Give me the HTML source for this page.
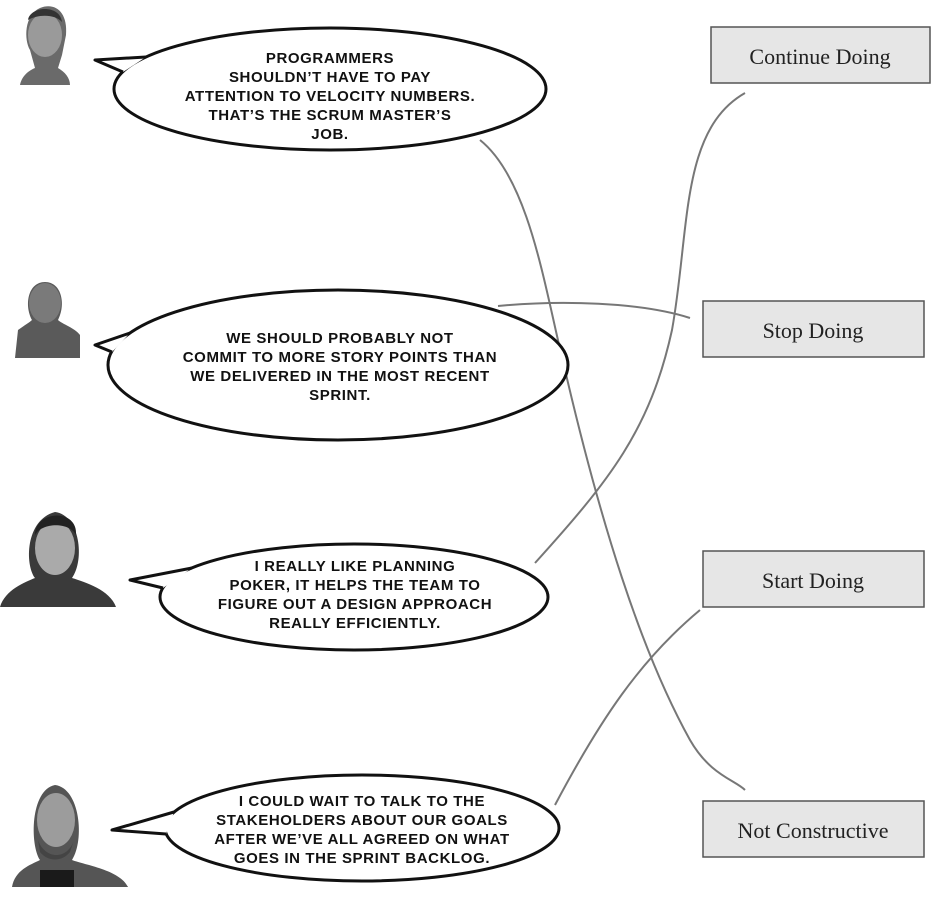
<!DOCTYPE html>
<html><head><style>
body{margin:0;background:#fff;width:935px;height:905px;overflow:hidden}
svg{display:block}
.t{font-family:"Liberation Sans",sans-serif;font-size:15px;font-weight:bold;text-anchor:middle;fill:#111;letter-spacing:0.6px}
.b{font-family:"Liberation Serif",serif;font-size:22px;text-anchor:middle;fill:#222}
</style></head><body>
<svg width="935" height="905" viewBox="0 0 935 905">
<g fill="none" stroke="#777" stroke-width="2">
<path d="M480,140 C530,180 545,290 565,370 C600,520 640,650 690,740 C710,775 735,780 745,790"/>
<path d="M498,306 C560,300 640,302 690,318"/>
<path d="M535,563 C610,480 650,430 672,330 C690,230 680,130 745,93"/>
<path d="M555,805 C600,720 640,660 700,610"/>
</g>
<g fill="#fff" stroke="#111" stroke-width="3" stroke-linejoin="round">
<ellipse cx="330" cy="89" rx="216" ry="61"/>
<path d="M123,72 L95,60 L146,57"/>
<ellipse cx="338" cy="365" rx="230" ry="75"/>
<path d="M112,352 L95,345 L130,333"/>
<ellipse cx="354" cy="597" rx="194" ry="53"/>
<path d="M163,588 L130,580 L192,568"/>
<ellipse cx="362" cy="828" rx="197" ry="53"/>
<path d="M166,834 L112,830 L174,812"/>
</g>
<g class="t">
<text x="330" y="63" class="t">PROGRAMMERS</text>
<text x="330" y="82" class="t">SHOULDN’T HAVE TO PAY</text>
<text x="330" y="101" class="t">ATTENTION TO VELOCITY NUMBERS.</text>
<text x="330" y="120" class="t">THAT’S THE SCRUM MASTER’S</text>
<text x="330" y="139" class="t">JOB.</text>
<text x="340" y="343" class="t">WE SHOULD PROBABLY NOT</text>
<text x="340" y="362" class="t">COMMIT TO MORE STORY POINTS THAN</text>
<text x="340" y="381" class="t">WE DELIVERED IN THE MOST RECENT</text>
<text x="340" y="400" class="t">SPRINT.</text>
<text x="355" y="571" class="t">I REALLY LIKE PLANNING</text>
<text x="355" y="590" class="t">POKER, IT HELPS THE TEAM TO</text>
<text x="355" y="609" class="t">FIGURE OUT A DESIGN APPROACH</text>
<text x="355" y="628" class="t">REALLY EFFICIENTLY.</text>
<text x="362" y="806" class="t">I COULD WAIT TO TALK TO THE</text>
<text x="362" y="825" class="t">STAKEHOLDERS ABOUT OUR GOALS</text>
<text x="362" y="844" class="t">AFTER WE’VE ALL AGREED ON WHAT</text>
<text x="362" y="863" class="t">GOES IN THE SPRINT BACKLOG.</text>
</g>
<g fill="#e6e6e6" stroke="#555" stroke-width="1.5">
<rect x="711" y="27" width="219" height="56"/>
<rect x="703" y="301" width="221" height="56"/>
<rect x="703" y="551" width="221" height="56"/>
<rect x="703" y="801" width="221" height="56"/>
</g>
<text x="820" y="64" class="b">Continue Doing</text>
<text x="813" y="338" class="b">Stop Doing</text>
<text x="813" y="588" class="b">Start Doing</text>
<text x="813" y="838" class="b">Not Constructive</text>
<g>
<path d="M20,85 C22,75 30,70 35,68 L30,50 C24,40 24,15 40,8 C55,2 68,12 66,35 L62,55 L58,68 C65,72 70,78 70,85 Z" fill="#6a6a6a"/>
<ellipse cx="45" cy="35" rx="17" ry="22" fill="#9a9a9a"/>
<path d="M28,20 C30,6 60,4 62,22 C55,14 38,14 28,20Z" fill="#333"/>
<path d="M15,358 L18,330 C25,325 30,322 32,320 C24,305 28,282 45,282 C62,282 66,305 58,320 C62,324 75,328 80,335 L80,358Z" fill="#5a5a5a"/>
<ellipse cx="45" cy="303" rx="16" ry="20" fill="#7a7a7a"/>
<path d="M0,607 C5,590 25,582 35,578 C25,565 25,520 55,512 C80,515 85,560 72,578 C85,582 110,590 116,607Z" fill="#3a3a3a"/>
<ellipse cx="55" cy="548" rx="20" ry="27" fill="#aaa"/>
<path d="M35,535 C35,510 78,508 76,535 C70,522 42,522 35,535Z" fill="#222"/>
<path d="M12,887 C15,870 30,865 40,860 C30,845 30,790 55,785 C80,788 85,840 72,860 C85,865 120,870 128,887Z" fill="#555"/>
<ellipse cx="56" cy="820" rx="19" ry="27" fill="#9c9c9c"/>
<path d="M38,840 C45,860 68,860 74,840 L70,852 C62,862 48,862 40,852Z" fill="#444"/>
<rect x="40" y="870" width="34" height="17" fill="#1a1a1a"/>
</g>
</svg>
</body></html>
